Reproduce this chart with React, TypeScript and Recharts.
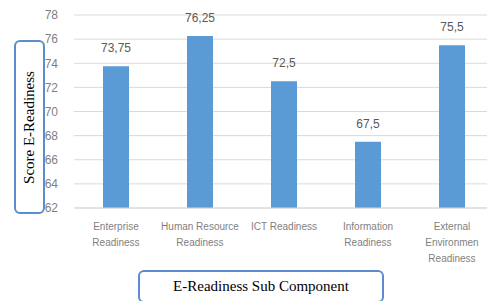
import React from 'react';
import { BarChart, Bar, XAxis, YAxis, CartesianGrid, LabelList } from 'recharts';

const categories = [
  'Enterprise|Readiness',
  'Human Resource|Readiness',
  'ICT Readiness',
  'Information|Readiness',
  'External|Environmen|Readiness',
];
const scores = [73.75, 76.25, 72.5, 67.5, 75.5];
const yTicks = [62, 64, 66, 68, 70, 72, 74, 76, 78];

const data = categories.map((name, i) => ({ name, score: scores[i] }));

// multi-line category label, lines split on '|'
const CategoryTick = ({ x, y, payload }: any) => {
  const lines = String(payload.value).split('|');
  return (
    <text x={x} y={y} textAnchor="middle" fill="#7f7f7f" fontSize={10} fontFamily="'Liberation Sans', Arial, sans-serif">
      {lines.map((line, i) => (
        <tspan key={i} x={x} dy={i === 0 ? 14 : 16}>{line}</tspan>
      ))}
    </text>
  );
};

const boxStyle: React.CSSProperties = {
  position: 'absolute',
  border: '2px solid #5b8ccf',
  borderRadius: 6,
  background: '#fff',
  boxSizing: 'border-box',
  fontFamily: "'Liberation Serif', 'Times New Roman', serif",
  fontSize: 15,
  color: '#000',
  display: 'flex',
  alignItems: 'center',
  justifyContent: 'center',
  whiteSpace: 'nowrap',
};

export default function App() {
  return (
    <div style={{ position: 'absolute', left: 0, top: 0, width: 487, height: 301, overflow: 'hidden', background: '#fff' }}>
      <BarChart
        width={500}
        height={301}
        data={data}
        margin={{ top: 15, right: 6, left: 0, bottom: 0 }}
        barSize={26}
      >
        <CartesianGrid vertical={false} stroke="#d9d9d9" />
        <XAxis
          dataKey="name"
          height={93}
          interval={0}
          tick={<CategoryTick />}
          tickLine={false}
          axisLine={{ stroke: '#d9d9d9' }}
        />
        <YAxis
          width={74}
          domain={[62, 78]}
          ticks={yTicks}
          interval={0}
          tickLine={false}
          axisLine={false}
          tick={{ fill: '#7f7f7f', fontSize: 12, fontFamily: "'Liberation Sans', Arial, sans-serif" }}
          tickMargin={10}
        />
        <Bar dataKey="score" fill="#5b9bd5" isAnimationActive={false}>
          <LabelList
            dataKey="score"
            position="top"
            offset={14}
            fill="#595959"
            fontSize={12}
            fontFamily="'Liberation Sans', Arial, sans-serif"
            formatter={(v: any) => String(v).replace('.', ',')}
          />
        </Bar>
      </BarChart>
      <div style={{ ...boxStyle, left: 14, top: 40, width: 31, height: 174 }}>
        <span style={{ transform: 'rotate(-90deg)', display: 'inline-block' }}>Score E-Readiness</span>
      </div>
      <div style={{ ...boxStyle, left: 138, top: 270, width: 246, height: 33 }}>
        E-Readiness Sub Component
      </div>
    </div>
  );
}
